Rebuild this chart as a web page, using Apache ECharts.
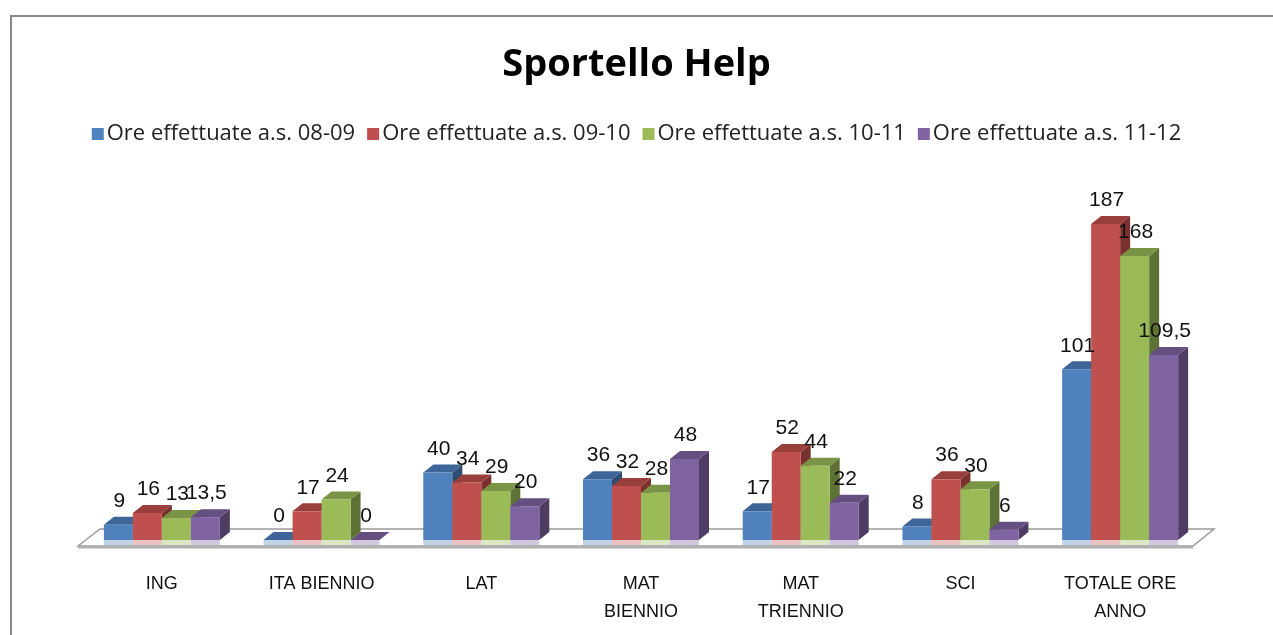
<!DOCTYPE html>
<html>
<head>
<meta charset="utf-8">
<script src="https://cdn.jsdelivr.net/npm/echarts@6/dist/echarts.min.js"></script>
<style>
html,body{margin:0;padding:0;background:#fff;}
#chart{width:1273px;height:635px;}
</style>
</head>
<body>
<div id="chart"></div>
<script>
var categories = ['ING', 'ITA BIENNIO', 'LAT', 'MAT\nBIENNIO', 'MAT\nTRIENNIO', 'SCI', 'TOTALE ORE\nANNO'];
var seriesNames = ['Ore effettuate a.s. 08-09', 'Ore effettuate a.s. 09-10', 'Ore effettuate a.s. 10-11', 'Ore effettuate a.s. 11-12'];
var ore0809 = [9, 0, 40, 36, 17, 8, 101];
var ore0910 = [16, 17, 34, 32, 52, 36, 187];
var ore1011 = [13, 24, 29, 28, 44, 30, 168];
var ore1112 = [13.5, 0, 20, 48, 22, 6, 109.5];

var allValues = [ore0809, ore0910, ore1011, ore1112];
var frontColors = ['#4F81BD', '#C0504D', '#9BBB59', '#8064A2'];
var topColors = ['#3E6597', '#983F3C', '#7A9446', '#654F80'];
var sideColors = ['#2F4D73', '#7A302E', '#5E7236', '#4D3D62'];

var chart = echarts.init(document.getElementById('chart'));

var BAR_W = 29, DX = 10, DY = 8;

// 3D-looking bar: front, top and side faces
function makeRender(idx) {
    return function(params, api) {
        var cat = api.value(0);
        var val = api.value(1);
        var p = api.coord([cat, val]);
        var base = api.coord([cat, 0]);
        var x = p[0] + (idx - 2) * BAR_W;
        var yTop = p[1];
        var yBot = base[1];
        var h = yBot - yTop;
        return {
            type: 'group',
            children: [
                { // reflection on the floor
                    type: 'rect',
                    shape: {x: x, y: yBot, width: BAR_W, height: 5},
                    style: {fill: frontColors[idx], opacity: 0.35}
                },
                {
                    type: 'polygon',
                    shape: {points: [[x + BAR_W, yBot], [x + BAR_W + DX, yBot - DY], [x + BAR_W + DX, yTop - DY], [x + BAR_W, yTop]]},
                    style: {fill: sideColors[idx]}
                },
                {
                    type: 'polygon',
                    shape: {points: [[x, yTop], [x + DX, yTop - DY], [x + BAR_W + DX, yTop - DY], [x + BAR_W, yTop]]},
                    style: {fill: topColors[idx]}
                },
                {
                    type: 'rect',
                    shape: {x: x, y: yTop, width: BAR_W, height: h},
                    style: {fill: frontColors[idx]}
                },
                {
                    type: 'text',
                    x: x + BAR_W / 2 + 1,
                    y: yTop - DY - 5,
                    style: {
                        text: String(val).replace('.', ','),
                        fill: '#111',
                        font: '21px "Liberation Sans", Arial, sans-serif',
                        align: 'center',
                        verticalAlign: 'bottom'
                    },
                    z2: 10
                }
            ]
        };
    };
}

var series = [];
for (var i = 0; i < 4; i++) {
    series.push({
        name: seriesNames[i],
        type: 'custom',
        renderItem: makeRender(i),
        itemStyle: {color: frontColors[i]},
        encode: {x: 0, y: 1},
        data: allValues[i].map(function(v, k) { return [k, v]; }),
        z: 2
    });
}

var option = {
    animation: false,
    backgroundColor: '#fff',
    color: frontColors,
    title: {
        text: 'Sportello Help',
        left: 'center',
        top: 41,
        textStyle: {fontSize: 38, fontWeight: 'bold', color: '#000', fontFamily: '"Open Sans", sans-serif'}
    },
    legend: {
        top: 118,
        left: 'center',
        itemWidth: 12,
        itemHeight: 12,
        itemGap: 12,
        icon: 'rect',
        textStyle: {fontSize: 22, color: '#222', fontFamily: '"Open Sans", sans-serif', padding: [0, 0, 0, -2]},
        data: seriesNames
    },
    grid: {left: 82, right: 73, top: 202, bottom: 95},
    xAxis: {
        type: 'category',
        data: categories,
        axisLine: {show: false},
        axisTick: {show: false},
        axisLabel: {
            margin: 30,
            fontSize: 18,
            lineHeight: 28,
            color: '#111',
            fontFamily: '"Liberation Sans", sans-serif'
        }
    },
    yAxis: {
        type: 'value',
        min: 0,
        max: 200,
        show: false,
        splitLine: {show: false}
    },
    graphic: [
        { // outer chart border
            type: 'rect',
            shape: {x: 11, y: 16, width: 1300, height: 700},
            style: {fill: 'none', stroke: '#8a8a8a', lineWidth: 2},
            z: 0
        },
        { // floor
            type: 'polygon',
            shape: {points: [[78, 546], [100, 529], [1214, 529], [1193, 546]]},
            style: {fill: '#fff', stroke: '#9a9a9a', lineWidth: 1.5},
            z: 0
        },
        {
            type: 'line',
            shape: {x1: 78, y1: 547.5, x2: 1193, y2: 547.5},
            style: {stroke: '#b0b0b0', lineWidth: 2},
            z: 0
        }
    ],
    series: series
};

chart.setOption(option);
</script>
</body>
</html>
